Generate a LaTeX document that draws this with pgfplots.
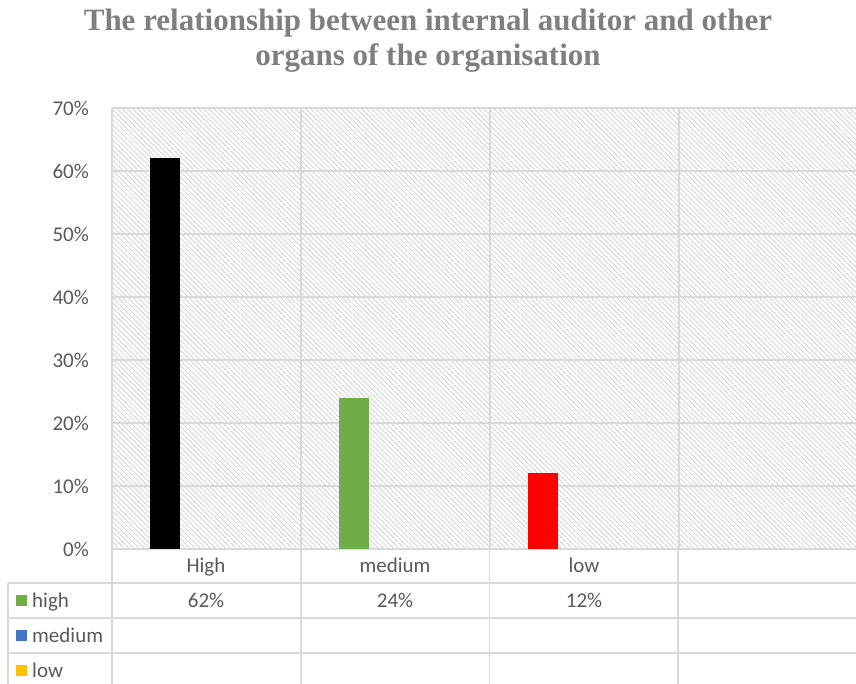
\documentclass[border=0pt]{standalone}
\usepackage{pgfplots}
\pgfplotsset{compat=1.18}
\usepackage{fontspec}
\setmainfont{Carlito}
\newfontfamily\titlefont{Liberation Serif}
\usetikzlibrary{patterns.meta}

\definecolor{gridgray}{HTML}{D9D9D9}
\definecolor{hatchgray}{HTML}{D2D2D2}
\definecolor{textgray}{HTML}{595959}
\definecolor{titlegray}{HTML}{7F7F7F}
\definecolor{barblack}{HTML}{000000}
\definecolor{bargreen}{HTML}{70AD47}
\definecolor{barred}{HTML}{FF0000}
\definecolor{keyblue}{HTML}{4472C4}
\definecolor{keyyellow}{HTML}{FFC000}

\begin{document}
\begin{tikzpicture}
\path[use as bounding box] (0pt,0pt) rectangle (856pt,684pt);

\begin{axis}[
  at={(112pt,135pt)}, anchor=south west,
  scale only axis, width=744pt, height=441pt,
  xmin=-0.5, xmax=3.4365, ymin=0, ymax=70,
  clip=false,
  axis line style={draw=none},
  major tick length=0pt,
  xtick={-0.5,0.5,1.5,2.5}, xticklabels={},
  ytick={0,10,...,70},
  xmajorgrids, ymajorgrids,
  grid style={color=gridgray, line width=1.4pt},
  axis background/.style={pattern={Lines[angle=-45, distance=3.6pt, line width=0.85pt]}, pattern color=hatchgray},
  /pgf/number format/assume math mode=true,
  yticklabel={\pgfmathprintnumber{\tick}\%},
  yticklabel style={anchor=east, inner sep=0pt, xshift=-23pt, text=textgray, font=\fontsize{21}{24}\selectfont},
]
\addplot[ybar, bar width=30pt, bar shift=-41.5pt, fill=barblack, draw=none] coordinates {(0,62)};
\addplot[ybar, bar width=30pt, bar shift=-41.5pt, fill=bargreen, draw=none] coordinates {(1,24)};
\addplot[ybar, bar width=30pt, bar shift=-41.5pt, fill=barred, draw=none] coordinates {(2,12)};
\end{axis}

\begin{scope}[x=1pt, y=1pt]
% title
\node[anchor=base, font=\titlefont\bfseries\fontsize{31}{35}\selectfont, text=titlegray, inner sep=0pt]
  at (428,653) {The relationship between internal auditor and other};
\node[anchor=base, font=\titlefont\bfseries\fontsize{31}{35}\selectfont, text=titlegray, inner sep=0pt]
  at (428,618) {organs of the organisation};

% data table below the plot
\begin{scope}[line width=1.4pt]
  \draw[gridgray] (8,101) -- (856,101);
  \draw[gridgray] (8,66) -- (856,66);
  \draw[gridgray] (8,31) -- (856,31);
  \draw[gridgray] (8,101) -- (8,0);
  \draw[gridgray] (112,135) -- (112,0);
  \draw[gridgray] (301,135) -- (301,0);
  \draw[gridgray] (489.5,135) -- (489.5,0);
  \draw[gridgray] (678,135) -- (678,0);
\end{scope}

\begin{scope}[font=\fontsize{21}{24}\selectfont, text=textgray]
  \node[anchor=base] at (206,111) {High};
  \node[anchor=base] at (395,111) {medium};
  \node[anchor=base] at (584,111) {low};
  \node[anchor=base] at (206,76) {62\%};
  \node[anchor=base] at (395,76) {24\%};
  \node[anchor=base] at (584,76) {12\%};
  \fill[bargreen] (16,78) rectangle (27,89);
  \fill[keyblue] (16,43) rectangle (27,54);
  \fill[keyyellow] (16,8) rectangle (27,19);
  \node[anchor=base west, inner sep=0pt] at (32,76) {high};
  \node[anchor=base west, inner sep=0pt] at (32,41) {medium};
  \node[anchor=base west, inner sep=0pt] at (32,6) {low};
\end{scope}
\end{scope}
\end{tikzpicture}
\end{document}
